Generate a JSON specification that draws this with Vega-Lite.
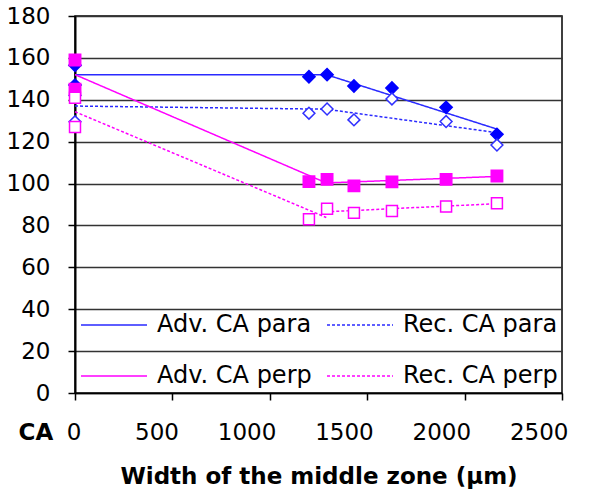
{
  "$schema": "https://vega.github.io/schema/vega-lite/v6.json",
  "width": 487,
  "height": 377,
  "autosize": {"type": "none"},
  "padding": {"left": 75, "top": 16, "right": 34, "bottom": 103},
  "background": "white",
  "config": {
    "view": {"stroke": "#000000", "strokeWidth": 1.5},
    "font": "DejaVu Sans"
  },
  "datasets": {
    "pts": [
      {"kind": "Adv. CA para", "x": 0, "y": 156.5},
      {"kind": "Adv. CA para", "x": 0, "y": 147},
      {"kind": "Adv. CA para", "x": 1201, "y": 151},
      {"kind": "Adv. CA para", "x": 1294, "y": 152},
      {"kind": "Adv. CA para", "x": 1432, "y": 146.6},
      {"kind": "Adv. CA para", "x": 1627, "y": 145.6},
      {"kind": "Adv. CA para", "x": 1905, "y": 136.4},
      {"kind": "Adv. CA para", "x": 2166, "y": 123.5},
      {"kind": "Rec. CA para", "x": 0, "y": 142},
      {"kind": "Rec. CA para", "x": 0, "y": 129.5},
      {"kind": "Rec. CA para", "x": 1201, "y": 133.6},
      {"kind": "Rec. CA para", "x": 1294, "y": 135.6},
      {"kind": "Rec. CA para", "x": 1432, "y": 130.4},
      {"kind": "Rec. CA para", "x": 1627, "y": 140.4},
      {"kind": "Rec. CA para", "x": 1905, "y": 129.6},
      {"kind": "Rec. CA para", "x": 2166, "y": 118.4},
      {"kind": "Adv. CA perp", "x": 0, "y": 159},
      {"kind": "Adv. CA perp", "x": 0, "y": 145},
      {"kind": "Adv. CA perp", "x": 1201, "y": 100.9},
      {"kind": "Adv. CA perp", "x": 1294, "y": 102},
      {"kind": "Adv. CA perp", "x": 1432, "y": 98.9},
      {"kind": "Adv. CA perp", "x": 1627, "y": 100.8},
      {"kind": "Adv. CA perp", "x": 1905, "y": 102},
      {"kind": "Adv. CA perp", "x": 2166, "y": 103.6},
      {"kind": "Rec. CA perp", "x": 0, "y": 141},
      {"kind": "Rec. CA perp", "x": 0, "y": 127},
      {"kind": "Rec. CA perp", "x": 1201, "y": 83},
      {"kind": "Rec. CA perp", "x": 1294, "y": 88},
      {"kind": "Rec. CA perp", "x": 1432, "y": 86},
      {"kind": "Rec. CA perp", "x": 1627, "y": 86.9},
      {"kind": "Rec. CA perp", "x": 1905, "y": 89},
      {"kind": "Rec. CA perp", "x": 2166, "y": 90.6}
    ],
    "lines": [
      {"series": "Adv. CA para", "seg": "a", "x": 0, "y": 152},
      {"series": "Adv. CA para", "seg": "a", "x": 1290, "y": 152},
      {"series": "Adv. CA para", "seg": "a", "x": 2166, "y": 126},
      {"series": "Rec. CA para", "seg": "a", "x": 0, "y": 137},
      {"series": "Rec. CA para", "seg": "a", "x": 1290, "y": 135.5},
      {"series": "Rec. CA para", "seg": "a", "x": 2166, "y": 124.3},
      {"series": "Adv. CA perp", "seg": "a", "x": 0, "y": 152},
      {"series": "Adv. CA perp", "seg": "a", "x": 1290, "y": 100.3},
      {"series": "Adv. CA perp", "seg": "a", "x": 2166, "y": 103.4},
      {"series": "Rec. CA perp", "seg": "a", "x": 0, "y": 134.3},
      {"series": "Rec. CA perp", "seg": "a", "x": 1290, "y": 83.8},
      {"series": "Rec. CA perp", "seg": "b", "x": 1290, "y": 86.5},
      {"series": "Rec. CA perp", "seg": "b", "x": 2166, "y": 90.4}
    ]
  },
  "layer": [
    {
      "data": {"name": "lines"},
      "mark": {"type": "line", "strokeWidth": 1.5},
      "encoding": {
        "x": {
          "field": "x", "type": "quantitative",
          "scale": {"domain": [0, 2500], "nice": false},
          "axis": {
            "values": [0, 500, 1000, 1500, 2000, 2500],
            "format": "d",
            "grid": false,
            "domain": true, "domainColor": "#000000", "domainWidth": 1.5,
            "tickColor": "#000000", "tickSize": 7, "tickWidth": 1.5,
            "labelAlign": "right", "labelOffset": 6, "labelPadding": 21,
            "labelFont": "DejaVu Sans", "labelFontSize": 23, "labelColor": "#000000",
            "title": "Width of the middle zone (µm)",
            "titleFont": "DejaVu Sans", "titleFontSize": 23, "titleFontWeight": "bold",
            "titleColor": "#000000", "titlePadding": 21
          }
        },
        "y": {
          "field": "y", "type": "quantitative",
          "scale": {"domain": [0, 180], "nice": false},
          "axis": {
            "values": [0, 20, 40, 60, 80, 100, 120, 140, 160, 180],
            "grid": true, "gridColor": "#333333", "gridWidth": 1.5,
            "domain": true, "domainColor": "#000000", "domainWidth": 2,
            "tickColor": "#000000", "tickSize": 7, "tickWidth": 1.5,
            "labelPadding": 18,
            "labelFont": "DejaVu Sans", "labelFontSize": 23, "labelColor": "#000000",
            "title": "CA",
            "titleFont": "DejaVu Sans", "titleFontSize": 23, "titleFontWeight": "bold",
            "titleColor": "#000000", "titleAngle": 0, "titleAlign": "left",
            "titleBaseline": "middle", "titleX": -57, "titleY": 416
          }
        },
        "detail": {"field": "seg"},
        "color": {
          "field": "series", "type": "nominal",
          "scale": {
            "domain": ["Adv. CA para", "Rec. CA para", "Adv. CA perp", "Rec. CA perp"],
            "range": ["#2a2aff", "#2a2aff", "#ff00ff", "#ff00ff"]
          },
          "legend": {
            "title": null, "orient": "none", "legendX": 5, "legendY": 294,
            "direction": "horizontal", "columns": 2, "padding": 0,
            "symbolType": "stroke", "symbolSize": 4356, "symbolStrokeWidth": 1.5,
            "clipHeight": 30, "rowPadding": 21, "columnPadding": 14,
            "labelOffset": 9, "labelFont": "DejaVu Sans", "labelFontSize": 24,
            "labelColor": "#000000", "labelLimit": 300
          }
        },
        "strokeDash": {
          "field": "series", "type": "nominal",
          "scale": {
            "domain": ["Adv. CA para", "Rec. CA para", "Adv. CA perp", "Rec. CA perp"],
            "range": [[1, 0], [3, 2], [1, 0], [3, 2]]
          },
          "legend": {
            "title": null, "orient": "none", "legendX": 5, "legendY": 294,
            "direction": "horizontal", "columns": 2, "padding": 0,
            "symbolType": "stroke", "symbolSize": 4356, "symbolStrokeWidth": 1.5,
            "clipHeight": 30, "rowPadding": 21, "columnPadding": 14,
            "labelOffset": 9, "labelFont": "DejaVu Sans", "labelFontSize": 24,
            "labelColor": "#000000", "labelLimit": 300
          }
        }
      }
    },
    {
      "data": {"name": "pts"},
      "mark": {"type": "point", "opacity": 1, "strokeWidth": 1.5},
      "encoding": {
        "x": {"field": "x", "type": "quantitative"},
        "y": {"field": "y", "type": "quantitative"},
        "shape": {
          "field": "kind", "type": "nominal",
          "scale": {
            "domain": ["Adv. CA para", "Rec. CA para", "Adv. CA perp", "Rec. CA perp"],
            "range": ["diamond", "diamond", "square", "square"]
          },
          "legend": null
        },
        "size": {
          "field": "kind", "type": "nominal",
          "scale": {
            "domain": ["Adv. CA para", "Rec. CA para", "Adv. CA perp", "Rec. CA perp"],
            "range": [150, 120, 150, 130]
          },
          "legend": null
        },
        "stroke": {
          "field": "kind", "type": "nominal",
          "scale": {
            "domain": ["Adv. CA para", "Rec. CA para", "Adv. CA perp", "Rec. CA perp"],
            "range": ["#0000ff", "#3030ff", "#ff00ff", "#ff00ff"]
          },
          "legend": null
        },
        "fill": {
          "field": "kind", "type": "nominal",
          "scale": {
            "domain": ["Adv. CA para", "Rec. CA para", "Adv. CA perp", "Rec. CA perp"],
            "range": ["#0000ff", "#ffffff", "#ff00ff", "#ffffff"]
          },
          "legend": null
        }
      }
    }
  ],
  "resolve": {"legend": {"shape": "independent", "fill": "independent", "stroke": "independent", "size": "independent"}}
}
